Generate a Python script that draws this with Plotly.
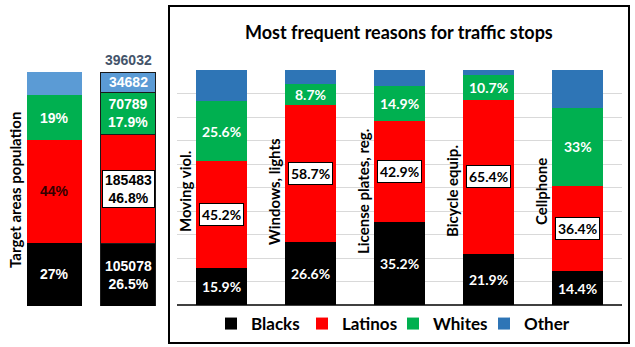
import plotly.graph_objects as go

W, H = 635, 347

# ---------------- data ----------------
races = ["Blacks", "Latinos", "Whites", "Other"]
reasons = ["Moving viol.", "Windows, lights", "License plates, reg.", "Bicycle equip.", "Cellphone"]
blacks = [15.9, 26.6, 35.2, 21.9, 14.4]
latinos = [45.2, 58.7, 42.9, 65.4, 36.4]
whites = [25.6, 8.7, 14.9, 10.7, 33.0]
other = [13.3, 6.0, 7.0, 2.0, 16.2]

pop_pct = [27, 44, 19, 10]                    # Blacks, Latinos, Whites, Other
pop_counts = [105078, 185483, 70789, 34682]
pop_total = 396032
pop_cats = ["pct", "count"]

right_colors = ["#000000", "#FF0000", "#00B050", "#2E75B6"]
left_colors = ["#000000", "#FF0000", "#00B050", "#5B9BD5"]

title = "Most frequent reasons for traffic stops"
left_title = "Target areas population"

CAL = "Lato, 'Open Sans', sans-serif"
ARI = "'Liberation Sans', Arial, sans-serif"


def px(x):
    return x / W


def py(y):
    return 1 - y / H


fig = go.Figure()

# ---------------- left panel ----------------
pop_count_pct = [c / pop_total * 100 for c in pop_counts]
for i, r in enumerate(races):
    fig.add_trace(go.Bar(
        x=pop_cats, y=[pop_pct[i], pop_count_pct[i]], xaxis="x", yaxis="y",
        width=0.74, marker=dict(color=left_colors[i],
                                line=dict(color="#1a1a1a", width=[0, 1])),
        showlegend=False, hoverinfo="skip"))

# ---------------- right panel ----------------
series = [blacks, latinos, whites, other]
for i, r in enumerate(races):
    fig.add_trace(go.Bar(
        x=reasons, y=series[i], xaxis="x2", yaxis="y2", name=r,
        width=0.573, marker=dict(color=right_colors[i], line=dict(width=0)),
        hoverinfo="skip"))

ann = []
# right panel segment labels
for j, cat in enumerate(reasons):
    base = 0
    for i in range(3):
        v = series[i][j]
        mid = base + v / 2
        txt = f"<b>{v:g}%</b>"
        if i == 1:
            ann.append(dict(x=cat, y=mid, xref="x2", yref="y2", text=txt, showarrow=False,
                            font=dict(family=CAL, size=14, color="black"),
                            bgcolor="white", bordercolor="black", borderwidth=1, borderpad=2))
        else:
            ann.append(dict(x=cat, y=mid, xref="x2", yref="y2", text=txt, showarrow=False,
                            font=dict(family=CAL, size=14, color="white")))
        base += v
    # rotated category label
    ann.append(dict(x=cat, y=48.3, xref="x2", yref="y2", text=f"<b>{cat}</b>", showarrow=False,
                    textangle=-90, xshift=-37, xanchor="center", yanchor="middle",
                    font=dict(family=CAL, size=15, color="black")))

# left panel labels
base1 = 0
base2 = 0
for i in range(4):
    v1 = pop_pct[i]
    v2 = pop_count_pct[i]
    if i < 3:
        col = "#330000" if i == 1 else "white"
        ann.append(dict(x=pop_cats[0], y=base1 + v1 / 2, xref="x", yref="y", text=f"<b>{v1}%</b>",
                        showarrow=False, font=dict(family=ARI, size=14, color=col)))
    if i == 3:
        t2 = f"<b>{pop_counts[i]}</b>"
    else:
        t2 = f"<b>{pop_counts[i]}<br>{v2:.1f}%</b>"
    if i == 1:
        ann.append(dict(x=pop_cats[1], y=base2 + v2 / 2, xref="x", yref="y", text=t2,
                        showarrow=False, font=dict(family=ARI, size=14, color="black"),
                        bgcolor="white", bordercolor="black", borderwidth=1, borderpad=1,
                        width=49))
    else:
        ann.append(dict(x=pop_cats[1], y=base2 + v2 / 2, xref="x", yref="y", text=t2,
                        showarrow=False, font=dict(family=ARI, size=14, color="white")))
    base1 += v1
    base2 += v2

ann.append(dict(x=pop_cats[1], y=100, xref="x", yref="y", yanchor="bottom", yshift=2,
                text=f"<b>{pop_total}</b>", showarrow=False,
                font=dict(family=ARI, size=14, color="#44546A")))

ann.append(dict(x=px(15), y=py(190), xref="paper", yref="paper", text=f"<b>{left_title}</b>",
                textangle=-90, showarrow=False, xanchor="center", yanchor="middle",
                font=dict(family=CAL, size=15, color="black")))
ann.append(dict(x=px(399), y=py(32), xref="paper", yref="paper", text=f"<b>{title}</b>",
                showarrow=False, xanchor="center", yanchor="middle",
                font=dict(family=CAL, size=18, color="black")))

fig.update_layout(
    width=W, height=H, margin=dict(l=0, r=0, t=0, b=0),
    paper_bgcolor="white", plot_bgcolor="white",
    barmode="stack",
    xaxis=dict(domain=[px(17.75), px(164.75)], range=[-0.5, 1.5], showticklabels=False,
               showgrid=False, zeroline=False, showline=False),
    yaxis=dict(domain=[py(306), py(72)], range=[0, 100], showticklabels=False, showgrid=False,
               zeroline=False, showline=False),
    xaxis2=dict(domain=[px(177), px(622)], range=[-0.5, 4.5], showticklabels=False,
                showgrid=False, zeroline=False, showline=False, anchor="y2"),
    yaxis2=dict(domain=[py(305), py(70)], range=[0, 100], dtick=10, showticklabels=False,
                showgrid=True, gridcolor="#D9D9D9", gridwidth=1, zeroline=True,
                zerolinecolor="#404040", zerolinewidth=1.5, anchor="x2"),
    legend=dict(orientation="h", x=px(211), xanchor="left", y=py(324), yanchor="middle",
                font=dict(family=CAL, size=17, color="black", weight="bold"),
                bgcolor="rgba(0,0,0,0)", traceorder="normal",
                entrywidth=46, entrywidthmode="pixels"),
    annotations=ann,
    shapes=[dict(type="rect", xref="paper", yref="paper", x0=px(169), x1=px(629),
                 y0=py(6), y1=py(343), line=dict(color="black", width=2))],
)

fig.write_html("out.html")
